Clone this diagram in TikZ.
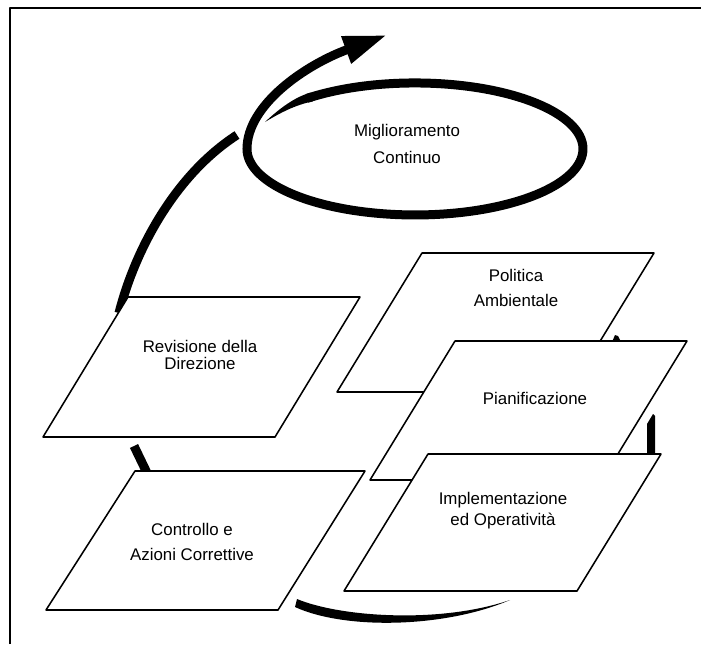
\documentclass[tikz,border=0pt]{standalone}
\usepackage{fontspec}
\setmainfont{Liberation Sans}
\usetikzlibrary{arrows.meta}
\begin{document}
\begin{tikzpicture}[x=0.025cm,y=-0.025cm,line cap=round,line join=round,
  box/.style={draw,fill=white,line width=1.1pt},
  brush/.style={line width=6.4pt,line cap=butt},
  lbl/.style={align=center,inner sep=0pt,font=\fontsize{12}{15}\selectfont}]
  \useasboundingbox (0,0) rectangle (701,644);
  \draw[line width=1pt,line cap=butt] (10,644) -- (10,8) -- (701,8);
  \draw[brush] (119,313) .. controls (135,250) and (175,175) .. (237,135);
  \draw[brush] (134,446) -- (148,475);
  \fill (297,599) .. controls (340,617) and (440,624) .. (510,600)
    .. controls (445,628) and (345,630) .. (295,607) -- cycle;
  \fill (647,456) -- (647,424) -- (653,414) -- (655,416) -- (655,456) -- cycle;
  \fill (612,342) -- (615,335) -- (618,336) -- (621,342) -- cycle;
  \draw[box] (422,253) -- ++(232,0) -- ++(-85,139) -- ++(-232,0) -- cycle;
  \draw[box] (455,341) -- ++(232,0) -- ++(-85,139) -- ++(-232,0) -- cycle;
  \draw[box] (428,454) -- ++(233,0) -- ++(-84,137) -- ++(-233,0) -- cycle;
  \draw[box] (128,297) -- ++(232,0) -- ++(-85,140) -- ++(-232,0) -- cycle;
  \draw[box] (135,471) -- ++(230,0) -- ++(-87,139) -- ++(-232,0) -- cycle;
  \fill (265,122) .. controls (280,108) and (295,97) .. (310.3,92.7) -- (312.9,101.3)
    .. controls (295,105) and (280,113) .. (265,122) -- cycle;
  \draw[brush,-{Triangle[length=31pt,width=19pt]}] (307,98.4)
    arc[start angle=230,end angle=540,x radius=168,y radius=66]
    .. controls (247,105) and (305,65) .. (387,35);
  \node[lbl,font=\fontsize{12}{19.8}\selectfont] (mig) at (407,144) {Miglioramento\\Continuo};
  \node[lbl,font=\fontsize{12}{17.7}\selectfont] (pol) at (516,288) {Politica\\Ambientale};
  \node[lbl] (pia) at (535,398) {Pianificazione};
  \node[lbl,font=\fontsize{12}{14.9}\selectfont] (imp) at (503,511) {Implementazione\\ed Operatività};
  \node[lbl,font=\fontsize{12}{12.6}\selectfont] (rev) at (200,355) {Revisione della\\Direzione};
  \node[lbl,font=\fontsize{12}{17.7}\selectfont] (con) at (192,542) {Controllo e\\Azioni Correttive};
\end{tikzpicture}
\end{document}
